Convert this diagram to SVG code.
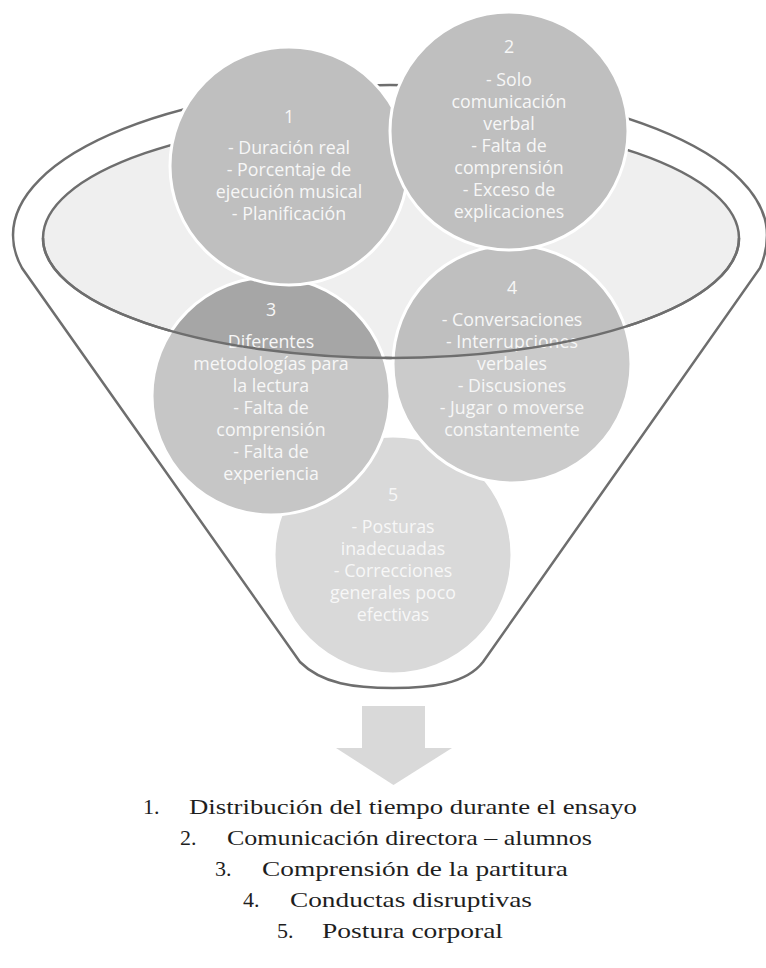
<svg xmlns="http://www.w3.org/2000/svg" width="766" height="968" viewBox="0 0 766 968">
  <style>
    .rim{fill:#ffffff;stroke:#6e6e6e;stroke-width:2.5}
    .mouth{fill:#efefef;stroke:#6e6e6e;stroke-width:2.5}
    .lip{fill:none;stroke:#6e6e6e;stroke-width:2.5}
    .ring{fill:none;stroke:#ffffff;stroke-width:3}
    .lbl{font-family:"Open Sans","DejaVu Sans",sans-serif;font-size:17.8px;fill:#f7f7f7;text-anchor:middle}
    .item{font-family:"Liberation Serif","Times New Roman",serif;font-size:22px;fill:#1e1e1e}
  </style>
  <defs>
    <clipPath id="mouthClip">
      <ellipse cx="391" cy="238" rx="348" ry="120"/>
    </clipPath>
  </defs>

  <!-- funnel body and opening -->
  <g id="funnel">
    <path class="rim" d="M300,662 L22,268 Q13,252 13,235 A377 150 0 0 1 767,235 Q767,252 760,268 L483,662 C466,684 431,688 393,688 C355,688 322,684 300,662 Z"/>
    <ellipse class="mouth" cx="391" cy="238" rx="348" ry="120"/>
  </g>

  <g id="node5">
    <circle cx="393" cy="555" r="119" fill="#d9d9d9"/>
    <circle class="ring" cx="393" cy="555" r="119"/>
    <text class="lbl" x="393" y="501">5</text>
    <text class="lbl" x="393" y="533">- Posturas</text>
    <text class="lbl" x="393" y="555">inadecuadas</text>
    <text class="lbl" x="393" y="577">- Correcciones</text>
    <text class="lbl" x="393" y="599">generales poco</text>
    <text class="lbl" x="393" y="621">efectivas</text>
  </g>

  <g id="node4">
    <circle cx="512" cy="364" r="119" fill="#cbcbcb"/>
    <circle cx="512" cy="364" r="119" fill="#bfbfbf" clip-path="url(#mouthClip)"/>
    <circle class="ring" cx="512" cy="364" r="119"/>
    <text class="lbl" x="512" y="294">4</text>
    <text class="lbl" x="512" y="326">- Conversaciones</text>
    <text class="lbl" x="512" y="348">- Interrupciones</text>
    <text class="lbl" x="512" y="370">verbales</text>
    <text class="lbl" x="512" y="392">- Discusiones</text>
    <text class="lbl" x="512" y="414">- Jugar o moverse</text>
    <text class="lbl" x="512" y="436">constantemente</text>
  </g>

  <g id="node3">
    <circle cx="271" cy="396" r="119" fill="#c6c6c6"/>
    <circle cx="271" cy="396" r="119" fill="#a6a6a6" clip-path="url(#mouthClip)"/>
    <circle class="ring" cx="271" cy="396" r="119"/>
    <text class="lbl" x="271" y="316">3</text>
    <text class="lbl" x="271" y="348">Diferentes</text>
    <text class="lbl" x="271" y="370">metodologías para</text>
    <text class="lbl" x="271" y="392">la lectura</text>
    <text class="lbl" x="271" y="414">- Falta de</text>
    <text class="lbl" x="271" y="436">comprensión</text>
    <text class="lbl" x="271" y="458">- Falta de</text>
    <text class="lbl" x="271" y="480">experiencia</text>
  </g>

  <g id="node1">
    <circle cx="289" cy="166" r="119" fill="#bfbfbf"/>
    <circle class="ring" cx="289" cy="166" r="119"/>
    <text class="lbl" x="289" y="123">1</text>
    <text class="lbl" x="289" y="154">- Duración real</text>
    <text class="lbl" x="289" y="176">- Porcentaje de</text>
    <text class="lbl" x="289" y="198">ejecución musical</text>
    <text class="lbl" x="289" y="220">- Planificación</text>
  </g>

  <g id="node2">
    <circle cx="509" cy="131" r="119" fill="#bfbfbf"/>
    <circle class="ring" cx="509" cy="131" r="119"/>
    <text class="lbl" x="509" y="53">2</text>
    <text class="lbl" x="509" y="86">- Solo</text>
    <text class="lbl" x="509" y="108">comunicación</text>
    <text class="lbl" x="509" y="130">verbal</text>
    <text class="lbl" x="509" y="152">- Falta de</text>
    <text class="lbl" x="509" y="174">comprensión</text>
    <text class="lbl" x="509" y="196">- Exceso de</text>
    <text class="lbl" x="509" y="218">explicaciones</text>
  </g>

  <!-- front lip of the opening, over the lower circles -->
  <g id="connectors">
    <path class="lip" d="M43,238 A348 120 0 0 0 739,238"/>
    <path id="arrow" d="M362,706 H425 V748 H452 L393.5,785 L336,748 H362 Z" fill="#d9d9d9"/>
  </g>

  <g id="summary">
    <text class="item" x="143" y="814">1.</text>
    <text class="item" x="189" y="814" textLength="448" lengthAdjust="spacingAndGlyphs">Distribución del tiempo durante el ensayo</text>
    <text class="item" x="180" y="845">2.</text>
    <text class="item" x="227" y="845" textLength="365" lengthAdjust="spacingAndGlyphs">Comunicación directora – alumnos</text>
    <text class="item" x="215" y="876">3.</text>
    <text class="item" x="262" y="876" textLength="306" lengthAdjust="spacingAndGlyphs">Comprensión de la partitura</text>
    <text class="item" x="243" y="907">4.</text>
    <text class="item" x="290" y="907" textLength="242" lengthAdjust="spacingAndGlyphs">Conductas disruptivas</text>
    <text class="item" x="277" y="938">5.</text>
    <text class="item" x="322" y="938" textLength="181" lengthAdjust="spacingAndGlyphs">Postura corporal</text>
  </g>
</svg>
